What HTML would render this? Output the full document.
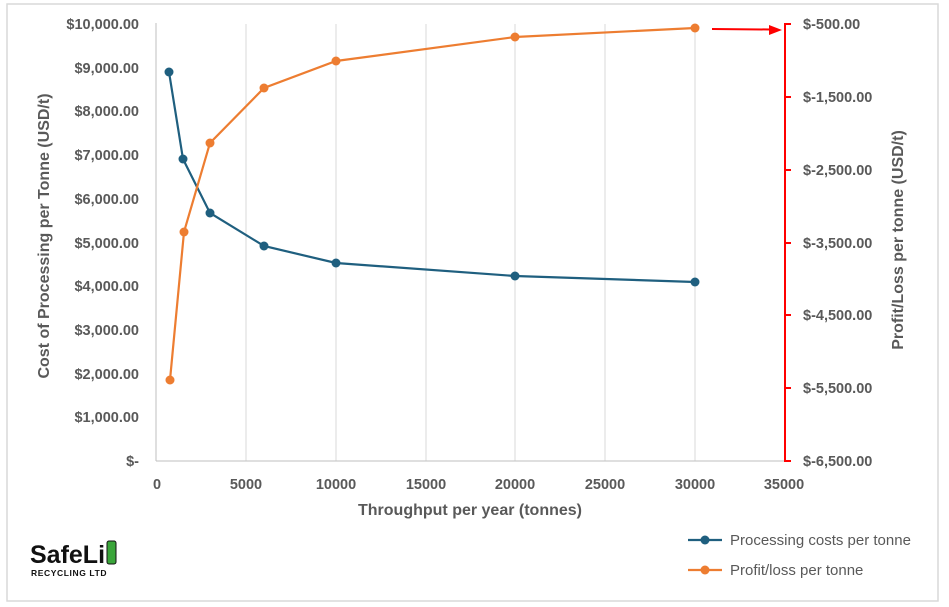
<!DOCTYPE html>
<html><head><meta charset="utf-8"><style>
body{margin:0;background:#fff;}
svg{display:block;font-family:"Liberation Sans",sans-serif;}
</style></head><body>
<svg width="949" height="607" viewBox="0 0 949 607">
<rect x="7" y="4" width="931" height="597" fill="#fff" stroke="#d9d9d9" stroke-width="1.5"/>
<g stroke="#d9d9d9" stroke-width="1">
<line x1="246" y1="24" x2="246" y2="461"/><line x1="336" y1="24" x2="336" y2="461"/>
<line x1="426" y1="24" x2="426" y2="461"/><line x1="515" y1="24" x2="515" y2="461"/>
<line x1="605" y1="24" x2="605" y2="461"/><line x1="695" y1="24" x2="695" y2="461"/>
</g>
<line x1="156" y1="23" x2="156" y2="461" stroke="#bfbfbf"/>
<line x1="156" y1="461" x2="785" y2="461" stroke="#bfbfbf"/>
<g font-size="14.5" fill="#595959" font-weight="bold" text-anchor="end">
<text x="139" y="29">$10,000.00</text><text x="139" y="73">$9,000.00</text>
<text x="139" y="116">$8,000.00</text><text x="139" y="160">$7,000.00</text>
<text x="139" y="204">$6,000.00</text><text x="139" y="248">$5,000.00</text>
<text x="139" y="291">$4,000.00</text><text x="139" y="335">$3,000.00</text>
<text x="139" y="379">$2,000.00</text><text x="139" y="422">$1,000.00</text>
<text x="139" y="466">$-</text>
</g>
<g font-size="14.5" fill="#595959" font-weight="bold" text-anchor="middle">
<text x="157" y="489">0</text><text x="246" y="489">5000</text><text x="336" y="489">10000</text>
<text x="426" y="489">15000</text><text x="515" y="489">20000</text><text x="605" y="489">25000</text>
<text x="695" y="489">30000</text><text x="784" y="489">35000</text>
<text x="470" y="515" font-size="16">Throughput per year (tonnes)</text>
</g>
<text transform="translate(49,236) rotate(-90)" font-size="16" font-weight="bold" fill="#595959" text-anchor="middle">Cost of Processing per Tonne (USD/t)</text>
<text transform="translate(903,240) rotate(-90)" font-size="16" font-weight="bold" fill="#595959" text-anchor="middle">Profit/Loss per tonne (USD/t)</text>
<g stroke="red" stroke-width="2" fill="none">
<line x1="785" y1="23" x2="785" y2="462"/>
<line x1="785" y1="24" x2="791" y2="24"/><line x1="785" y1="97" x2="791" y2="97"/>
<line x1="785" y1="170" x2="791" y2="170"/><line x1="785" y1="243" x2="791" y2="243"/>
<line x1="785" y1="315" x2="791" y2="315"/><line x1="785" y1="388" x2="791" y2="388"/>
<line x1="785" y1="461" x2="791" y2="461"/>
<line x1="712" y1="29" x2="770" y2="29.5"/>
</g>
<polygon points="782,30 769,25 769,35" fill="red"/>
<g font-size="14.5" fill="#595959" font-weight="bold">
<text x="803" y="29">$-500.00</text><text x="803" y="102">$-1,500.00</text>
<text x="803" y="175">$-2,500.00</text><text x="803" y="248">$-3,500.00</text>
<text x="803" y="320">$-4,500.00</text><text x="803" y="393">$-5,500.00</text>
<text x="803" y="466">$-6,500.00</text>
</g>
<polyline points="169,72 183,159 210,213 264,246 336,263 515,276 695,282" fill="none" stroke="#1f5f7f" stroke-width="2.2"/>
<g fill="#1f5f7f"><circle cx="169" cy="72" r="4.5"/><circle cx="183" cy="159" r="4.5"/><circle cx="210" cy="213" r="4.5"/><circle cx="264" cy="246" r="4.5"/><circle cx="336" cy="263" r="4.5"/><circle cx="515" cy="276" r="4.5"/><circle cx="695" cy="282" r="4.5"/></g>
<polyline points="170,380 184,232 210,143 264,88 336,61 515,37 695,28" fill="none" stroke="#ed7d31" stroke-width="2.2"/>
<g fill="#ed7d31"><circle cx="170" cy="380" r="4.5"/><circle cx="184" cy="232" r="4.5"/><circle cx="210" cy="143" r="4.5"/><circle cx="264" cy="88" r="4.5"/><circle cx="336" cy="61" r="4.5"/><circle cx="515" cy="37" r="4.5"/><circle cx="695" cy="28" r="4.5"/></g>
<line x1="688" y1="540" x2="722" y2="540" stroke="#1f5f7f" stroke-width="2.2"/><circle cx="705" cy="540" r="4.5" fill="#1f5f7f"/>
<line x1="688" y1="570" x2="722" y2="570" stroke="#ed7d31" stroke-width="2.2"/><circle cx="705" cy="570" r="4.5" fill="#ed7d31"/>
<text x="730" y="545" font-size="15" fill="#595959">Processing costs per tonne</text>
<text x="730" y="575" font-size="15" fill="#595959">Profit/loss per tonne</text>
<text x="30" y="563" font-size="25" font-weight="bold" fill="#111">SafeLi</text>
<rect x="107" y="541" width="9" height="23" rx="2" fill="#3aa53a" stroke="#111" stroke-width="1"/>
<text x="31" y="576" font-size="8.5" font-weight="bold" fill="#111" letter-spacing="0.6">RECYCLING LTD</text>
</svg>
</body></html>
